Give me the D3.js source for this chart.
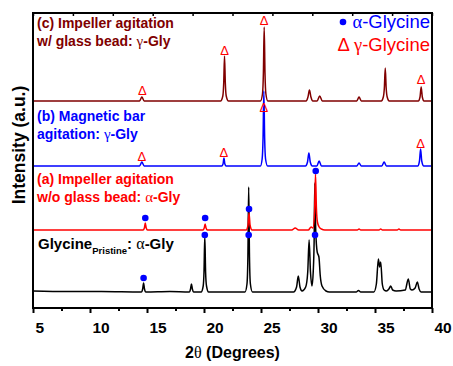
<!DOCTYPE html>
<html>
<head>
<meta charset="utf-8">
<script src="https://cdn.jsdelivr.net/npm/d3@7"></script>
<style>
  body { margin: 0; background: #fff; }
  text { font-family: 'Liberation Sans', Arial, sans-serif; }
  .greek { font-family: 'Liberation Serif', 'DejaVu Serif', serif; font-weight: normal; }
</style>
</head>
<body>
<svg width="453" height="366"></svg>
<script>
// 2theta (deg), intensity above the trace baseline (a.u.)
const pristinePts = [
  [5, 1], [8, 0.5], [11, 0.5], [14.5, 0], [14.62, 3], [14.7, 9], [14.78, 3], [14.9, 0],
  [17, 0.5], [18.7, 0], [18.82, 3], [18.9, 8], [18.98, 3], [19.1, 0],
  [19.75, 0], [19.93, 6], [20.0, 20], [20.07, 56], [20.14, 20], [20.22, 6], [20.4, 0],
  [23.6, 0], [23.77, 8], [23.85, 35], [23.92, 105], [23.99, 35], [24.07, 8], [24.25, 0],
  [27.85, 0], [28.12, 5], [28.27, 16], [28.42, 5], [28.6, 1],
  [28.92, 5], [29.1, 20], [29.22, 52], [29.34, 20], [29.47, 6],
  [29.58, 20], [29.66, 50], [29.72, 109], [29.8, 62], [29.93, 40], [30.08, 35], [30.2, 16], [30.35, 6], [30.7, 1], [31, 0],
  [33.35, 0], [33.55, 1.5], [33.75, 0],
  [34.9, 0], [35.12, 8], [35.3, 33], [35.4, 25], [35.5, 30], [35.64, 8], [35.8, 2], [36.0, 1],
  [36.22, 3], [36.38, 6], [36.55, 2], [36.85, 1],
  [37.65, 2], [37.92, 13], [38.1, 3], [38.25, 2], [38.52, 4], [38.71, 10], [38.87, 3], [39.04, 0], [40, 0]
];
const impellerPts = [
  [5, 0], [14.65, 0], [14.77, 2], [14.85, 7], [14.93, 2], [15.05, 0],
  [19.9, 0], [20.02, 2], [20.1, 6], [20.18, 2], [20.3, 0],
  [23.7, 0], [23.86, 5], [23.95, 17], [24.04, 5], [24.22, 0],
  [27.7, 0], [28.0, 2], [28.3, 0],
  [29.15, 0], [29.4, 3], [29.55, 2], [29.7, 18], [29.78, 56], [29.86, 22], [29.95, 8], [30.1, 3], [30.3, 1], [30.6, 0],
  [33.45, 0], [33.6, 1], [33.75, 0],
  [35.35, 0], [35.5, 1], [35.65, 0],
  [36.95, 0], [37.1, 1], [37.25, 0], [40, 0]
];
const magneticPts = [
  [5, 0], [14.35, 0], [14.55, 4], [14.75, 0],
  [21.55, 0], [21.67, 2], [21.75, 8], [21.83, 2], [21.95, 0],
  [24.95, 0], [25.1, 7], [25.18, 28], [25.25, 75], [25.32, 28], [25.4, 7], [25.58, 0],
  [28.9, 0], [29.08, 4], [29.2, 13], [29.32, 4], [29.5, 0],
  [29.9, 0], [30.1, 5], [30.3, 0],
  [33.4, 0], [33.6, 3], [33.8, 0],
  [35.6, 0], [35.8, 4], [36.0, 0],
  [38.75, 0], [38.9, 5], [39.0, 17], [39.1, 5], [39.28, 0], [40, 0]
];
const beadPts = [
  [5, 0], [14.35, 0], [14.55, 4], [14.75, 0],
  [21.45, 0], [21.65, 5], [21.73, 18], [21.8, 45], [21.87, 18], [21.95, 5], [22.15, 0],
  [24.95, 0], [25.13, 7], [25.21, 28], [25.28, 74], [25.35, 28], [25.43, 7], [25.6, 0],
  [28.95, 0], [29.12, 4], [29.25, 11], [29.38, 4], [29.55, 0],
  [29.92, 0], [30.15, 5], [30.38, 0],
  [33.4, 0], [33.6, 4], [33.8, 0],
  [35.55, 0], [35.73, 4], [35.82, 13], [35.9, 33], [35.98, 13], [36.07, 4], [36.25, 0],
  [38.8, 0], [38.95, 4], [39.05, 14], [39.15, 4], [39.3, 0], [40, 0]
];

// vertical offset of each pattern (a.u.)
const offsets = [16, 78, 142, 207];

// peak markers: [2theta, height above baseline]
const pristineAlpha = [[14.7, 14], [20.07, 57], [23.92, 57], [29.74, 57]];
const impellerAlpha = [[14.85, 12], [20.1, 12], [23.95, 21], [29.8, 59]];
const magneticGamma = [[14.55, 10], [21.75, 14], [25.25, 59], [39.0, 23]];
const beadGamma = [[14.6, 11], [21.8, 51], [25.28, 81], [39.05, 22]];

const majorTicks = [5, 10, 15, 20, 25, 30, 35, 40];
const minorTicks = [7.5, 12.5, 17.5, 22.5, 27.5, 32.5, 37.5];

const svg = d3.select('svg');
const width = +svg.attr('width');
const height = +svg.attr('height');
const margin = { top: 13, right: 21, bottom: 58, left: 33 };
const innerWidth = width - margin.left - margin.right;
const innerHeight = height - margin.top - margin.bottom;

const xScale = d3.scaleLinear().domain([5, 40]).range([0, innerWidth]);
const yScale = d3.scaleLinear().domain([0, 295]).range([innerHeight, 0]);

const g = svg.append('g')
  .attr('transform', `translate(${margin.left},${margin.top})`);

const traces = [
  { pts: beadPts, off: offsets[3], color: '#800000' },
  { pts: magneticPts, off: offsets[2], color: '#0000ff' },
  { pts: pristinePts, off: offsets[0], color: '#000000' },
  { pts: impellerPts, off: offsets[1], color: '#ff0000' }
];

traces.forEach(t => {
  const line = d3.line()
    .x(d => xScale(d[0]))
    .y(d => yScale(d[1] + t.off))
    .curve(d3.curveMonotoneX);
  g.append('path')
    .datum(t.pts)
    .attr('fill', 'none')
    .attr('stroke', t.color)
    .attr('stroke-width', 1.5)
    .attr('stroke-linejoin', 'round')
    .attr('d', line);
});

// gamma markers
[[beadGamma, offsets[3]], [magneticGamma, offsets[2]]].forEach(([marks, off]) => {
  g.selectAll(null).data(marks).enter().append('text')
    .attr('x', d => xScale(d[0]))
    .attr('y', d => yScale(d[1] + off))
    .attr('dy', '0.36em')
    .attr('text-anchor', 'middle')
    .attr('font-size', 13)
    .attr('fill', '#ff0000')
    .text('Δ');
});

// alpha markers
[[pristineAlpha, offsets[0]], [impellerAlpha, offsets[1]]].forEach(([marks, off]) => {
  g.selectAll(null).data(marks).enter().append('circle')
    .attr('cx', d => xScale(d[0]))
    .attr('cy', d => yScale(d[1] + off))
    .attr('r', 3.3)
    .attr('fill', '#0000ff');
});

// frame
g.append('rect')
  .attr('width', innerWidth)
  .attr('height', innerHeight)
  .attr('fill', 'none')
  .attr('stroke', '#000')
  .attr('stroke-width', 2);

// x axis
const xAxisG = g.append('g')
  .attr('transform', `translate(0,${innerHeight})`)
  .call(d3.axisBottom(xScale).tickValues(majorTicks).tickSize(5).tickPadding(9));
xAxisG.select('.domain').remove();
xAxisG.selectAll('line').attr('stroke-width', 2);
xAxisG.selectAll('text')
  .attr('text-anchor', 'start')
  .attr('x', 2)
  .attr('font-size', 15.5)
  .attr('font-weight', 'bold')
  .attr('font-family', "'Liberation Sans', Arial, sans-serif");

const minorG = g.append('g')
  .attr('transform', `translate(0,${innerHeight})`)
  .call(d3.axisBottom(xScale).tickValues(minorTicks).tickSize(3).tickFormat(''));
minorG.select('.domain').remove();
minorG.selectAll('line').attr('stroke-width', 2);

// small ticks along the top edge
const topScale = d3.scaleLinear().domain([0, 10]).range([0, innerWidth]);
const topG = g.append('g')
  .call(d3.axisTop(topScale).ticks(10).tickSize(-3).tickFormat(''));
topG.select('.domain').remove();
topG.selectAll('line').attr('stroke-width', 1.5);

// axis titles
const xTitle = svg.append('text')
  .attr('x', margin.left + innerWidth / 2)
  .attr('y', 358)
  .attr('text-anchor', 'middle')
  .attr('font-size', 16)
  .attr('font-weight', 'bold');
xTitle.append('tspan').text('2');
xTitle.append('tspan').attr('class', 'greek').text('θ');
xTitle.append('tspan').text(' (Degrees)');

svg.append('text')
  .attr('transform', 'translate(25,145) rotate(-90)')
  .attr('text-anchor', 'middle')
  .attr('font-size', 17.5)
  .attr('font-weight', 'bold')
  .text('Intensity (a.u.)');

// sample labels
const labelLines = [
  { y: 28, color: '#800000', parts: ['(c) Impeller agitation'] },
  { y: 46, color: '#800000', parts: ['w/ glass bead: ', ['γ'], '-Gly'] },
  { y: 121, color: '#0000ff', parts: ['(b) Magnetic bar'] },
  { y: 139, color: '#0000ff', parts: ['agitation: ', ['γ'], '-Gly'] },
  { y: 184, color: '#ff0000', parts: ['(a) Impeller agitation'] },
  { y: 202, color: '#ff0000', parts: ['w/o glass bead: ', ['α'], '-Gly'] }
];
labelLines.forEach(l => {
  const t = svg.append('text')
    .attr('x', 37)
    .attr('y', l.y)
    .attr('font-size', 14)
    .attr('font-weight', 'bold')
    .attr('fill', l.color);
  l.parts.forEach(p => {
    if (Array.isArray(p)) t.append('tspan').attr('class', 'greek').attr('font-size', 15).text(p[0]);
    else t.append('tspan').text(p);
  });
});

const pristineLabel = svg.append('text')
  .attr('x', 38)
  .attr('y', 249)
  .attr('font-size', 15)
  .attr('font-weight', 'bold')
  .attr('fill', '#000');
pristineLabel.append('tspan').text('Glycine');
pristineLabel.append('tspan').attr('font-size', 9.5).attr('dy', 5).text('Pristine');
pristineLabel.append('tspan').attr('dy', -5).text(': ');
pristineLabel.append('tspan').attr('class', 'greek').attr('font-size', 16).text('α');
pristineLabel.append('tspan').text('-Gly');

// legend
svg.append('circle')
  .attr('cx', 343)
  .attr('cy', 22)
  .attr('r', 3.3)
  .attr('fill', '#0000ff');
const leg1 = svg.append('text')
  .attr('x', 430).attr('y', 28)
  .attr('text-anchor', 'end')
  .attr('font-size', 18.5)
  .attr('fill', '#0000ff');
leg1.append('tspan').attr('class', 'greek').text('α');
leg1.append('tspan').text('-Glycine');

const leg2 = svg.append('text')
  .attr('x', 430).attr('y', 51)
  .attr('text-anchor', 'end')
  .attr('font-size', 18.5)
  .attr('fill', '#ff0000');
leg2.append('tspan').text('Δ ');
leg2.append('tspan').attr('class', 'greek').text('γ');
leg2.append('tspan').text('-Glycine');
</script>
</body>
</html>
